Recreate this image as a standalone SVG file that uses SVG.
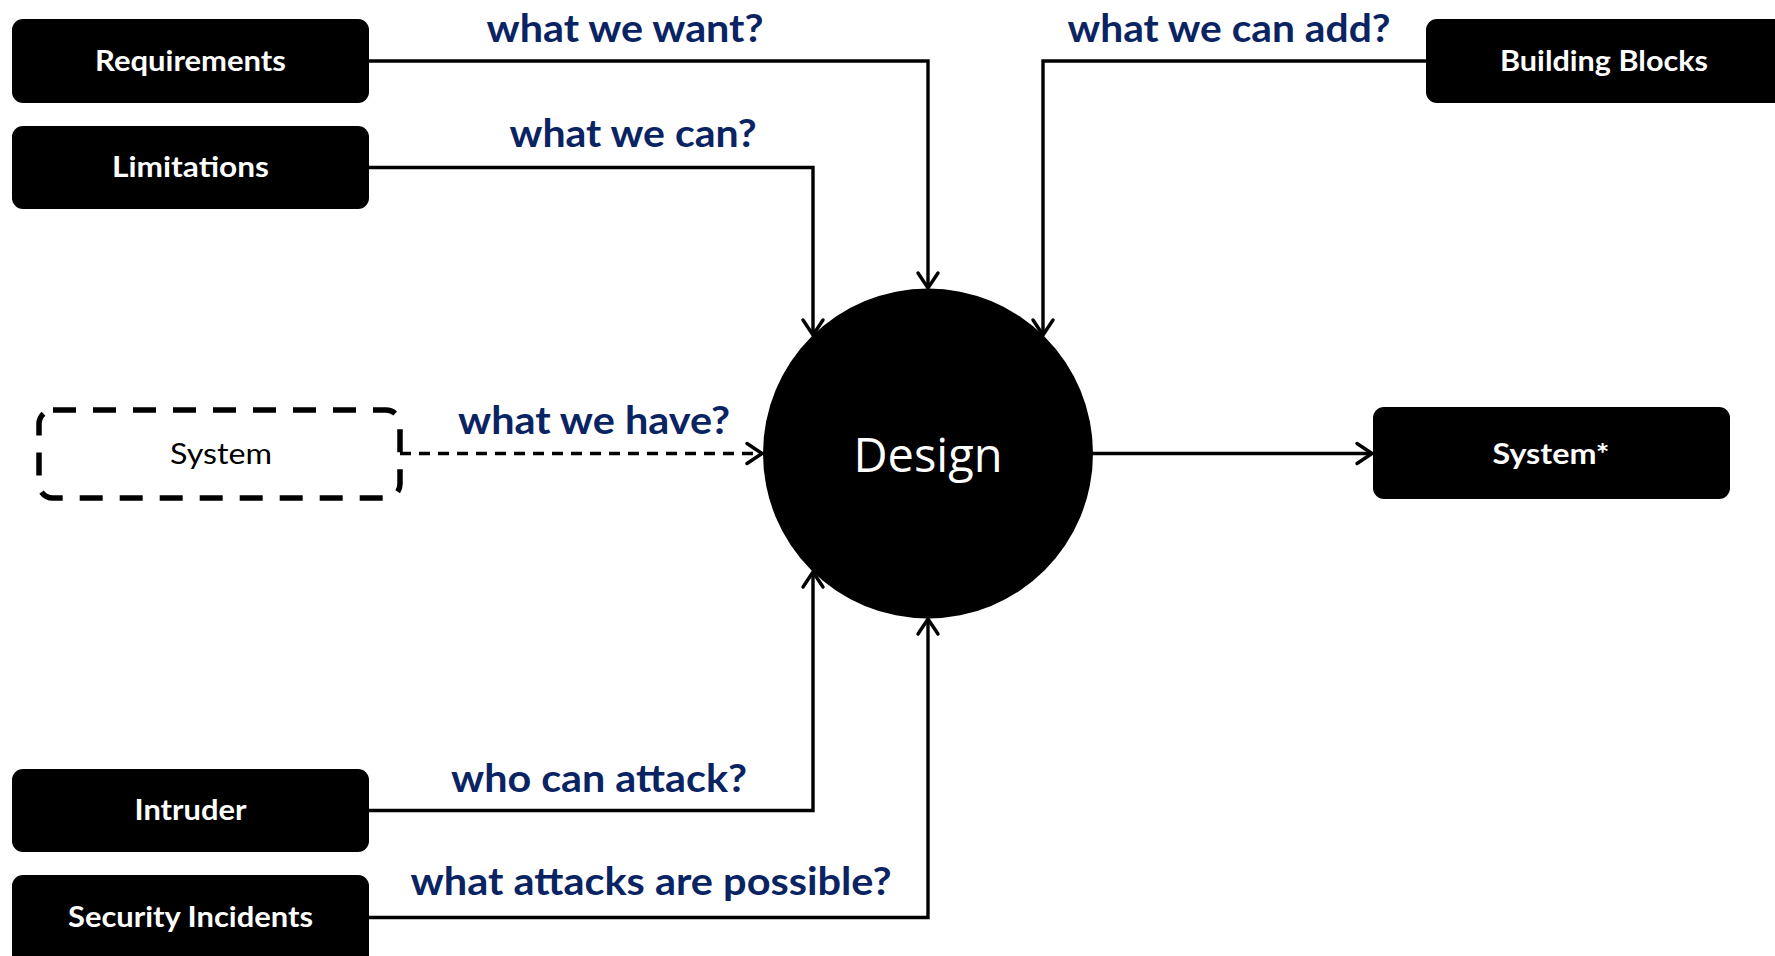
<svg xmlns="http://www.w3.org/2000/svg" width="1775" height="956" viewBox="0 0 1775 956">
<style>
.box{fill:#000;}
.btxt{fill:#fff;font-family:Lato,"Open Sans","Liberation Sans",sans-serif;font-weight:700;font-size:28px;text-anchor:middle;}
.lbl{fill:#0a2463;font-family:Lato,"Open Sans","Liberation Sans",sans-serif;font-weight:700;font-size:39px;text-anchor:middle;}
.con{fill:none;stroke:#000;stroke-width:3.4;}
</style>
<defs>
<marker id="arr" markerUnits="userSpaceOnUse" markerWidth="30" markerHeight="30" viewBox="-20 -15 30 30" refX="0" refY="0" orient="auto">
<path d="M -15 -10 L 0 0 L -15 10" fill="none" stroke="#000" stroke-width="3.4" stroke-linecap="round" stroke-linejoin="round"/>
</marker>
</defs>
<rect width="1775" height="956" fill="#fff"/>
<g id="connectors">
<path class="con" d="M369 61 H928 V288" marker-end="url(#arr)"/>
<path class="con" d="M369 167.5 H813 V335" marker-end="url(#arr)"/>
<path class="con" d="M1426 61 H1043 V335" marker-end="url(#arr)"/>
<path class="con" d="M400 453.5 H762" stroke-dasharray="11 8" marker-end="url(#arr)"/>
<path class="con" d="M1093 453.5 H1372" marker-end="url(#arr)"/>
<path class="con" d="M369 810.5 H813 V572" marker-end="url(#arr)"/>
<path class="con" d="M369 917.5 H928 V619" marker-end="url(#arr)"/>
<text class="lbl" x="625" y="42" textLength="277" lengthAdjust="spacingAndGlyphs">what we want?</text>
<text class="lbl" x="633" y="147" textLength="247" lengthAdjust="spacingAndGlyphs">what we can?</text>
<text class="lbl" x="1229" y="42" textLength="323" lengthAdjust="spacingAndGlyphs">what we can add?</text>
<text class="lbl" x="594" y="434" textLength="272" lengthAdjust="spacingAndGlyphs">what we have?</text>
<text class="lbl" x="599" y="792" textLength="296" lengthAdjust="spacingAndGlyphs">who can attack?</text>
<text class="lbl" x="651" y="895" textLength="481" lengthAdjust="spacingAndGlyphs">what attacks are possible?</text>
</g>
<g id="requirements">
<rect class="box" x="12" y="19" width="357" height="84" rx="11"/>
<text class="btxt" x="190.5" y="71" textLength="191" lengthAdjust="spacingAndGlyphs">Requirements</text>
</g>
<g id="limitations">
<rect class="box" x="12" y="126" width="357" height="83" rx="11"/>
<text class="btxt" x="190.5" y="177" textLength="157" lengthAdjust="spacingAndGlyphs">Limitations</text>
</g>
<g id="building-blocks">
<rect class="box" x="1426" y="19" width="370" height="84" rx="11"/>
<text class="btxt" x="1604" y="71" textLength="208" lengthAdjust="spacingAndGlyphs">Building Blocks</text>
</g>
<g id="system">
<rect x="39" y="410" width="361" height="88" rx="14" fill="none" stroke="#000" stroke-width="5.5" stroke-dasharray="23 17"/>
<text x="221" y="464" font-family="Lato,'Open Sans','Liberation Sans',sans-serif" font-weight="400" font-size="28" text-anchor="middle" fill="#000" textLength="102" lengthAdjust="spacingAndGlyphs">System</text>
</g>
<g id="design">
<circle cx="928" cy="453.5" r="165" fill="#000"/>
<text x="928" y="472" font-family="'Open Sans','Liberation Sans',sans-serif" font-size="48" text-anchor="middle" fill="#fff" textLength="149" lengthAdjust="spacingAndGlyphs">Design</text>
</g>
<g id="system-star">
<rect class="box" x="1373" y="407" width="357" height="92" rx="11"/>
<text class="btxt" x="1551" y="464" textLength="117" lengthAdjust="spacingAndGlyphs">System*</text>
</g>
<g id="intruder">
<rect class="box" x="12" y="769" width="357" height="83" rx="11"/>
<text class="btxt" x="190.5" y="820" textLength="112" lengthAdjust="spacingAndGlyphs">Intruder</text>
</g>
<g id="security-incidents">
<rect class="box" x="12" y="875" width="357" height="100" rx="11"/>
<text class="btxt" x="190.5" y="927" textLength="245" lengthAdjust="spacingAndGlyphs">Security Incidents</text>
</g>
</svg>
